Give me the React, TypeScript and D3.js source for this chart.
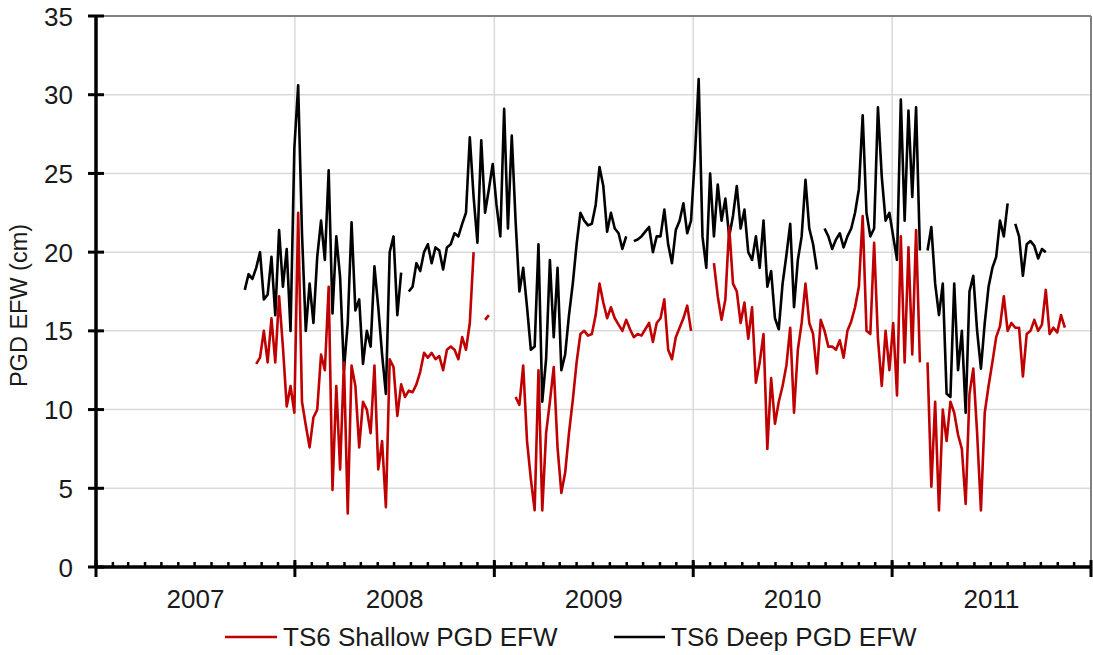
import React from 'react';
import * as d3 from 'd3';

// weekly readings, starting on this Monday
const firstWeek = new Date(2007, 8, 24);

const yearBounds = [2007, 2008, 2009, 2010, 2011, 2012];
const yearLabels = ['2007', '2008', '2009', '2010', '2011'];
const yTicks = [0, 5, 10, 15, 20, 25, 30, 35];

// TS6 Shallow PGD EFW (cm), one value per week, null = no data
const shallowValues: (number | null)[] = [
  null, null, null, null, 12.9, 13.3, 15.0, 13.0, 15.8, 13.0,
  17.2, 14.0, 10.2, 11.5, 9.8, 22.5, 10.5, 9.0, 7.6, 9.5,
  10.0, 13.5, 12.5, 17.8, 4.9, 11.5, 6.2, 13.0, 3.4, 12.8,
  11.5, 7.6, 10.5, 10.0, 8.5, 12.8, 6.2, 8.0, 3.8, 13.2,
  12.7, 9.6, 11.6, 10.8, 11.2, 11.1, 11.6, 12.4, 13.6, 13.3,
  13.6, 13.2, 13.4, 12.5, 13.8, 14.0, 13.8, 13.2, 14.6, 13.8,
  15.5, 20.0, null, null, 15.7, 16.0, null, null, null, null,
  null, null, 10.8, 10.3, 12.8, 8.0, 5.6, 3.6, 12.5, 3.6,
  8.5, 10.5, 12.7, 7.6, 4.7, 6.0, 8.5, 10.6, 13.0, 14.8,
  15.0, 14.7, 14.8, 16.0, 18.0, 16.8, 15.8, 16.5, 15.8, 15.4,
  15.0, 15.7, 15.1, 14.6, 14.8, 14.7, 15.1, 15.5, 14.3, 15.5,
  15.8, 17.0, 13.8, 13.2, 14.6, 15.2, 15.8, 16.6, 15.0, null,
  null, null, null, null, 19.3, 17.2, 15.7, 17.0, 21.6, 18.0,
  17.5, 15.5, 16.8, 14.5, 16.5, 11.7, 13.0, 14.8, 7.5, 12.0,
  9.1, 10.5, 11.5, 12.8, 15.2, 9.8, 13.8, 15.5, 18.0, 15.5,
  14.8, 12.3, 15.7, 15.0, 14.0, 14.0, 13.8, 14.4, 13.3, 15.0,
  15.6, 16.5, 17.8, 22.3, 15.0, 14.8, 20.6, 14.5, 11.5, 15.0,
  12.5, 15.5, 10.9, 21.0, 13.0, 20.3, 13.5, 21.4, 13.0, null,
  13.0, 5.1, 10.5, 3.6, 10.0, 8.0, 10.5, 9.8, 8.4, 7.5,
  4.0, 11.0, 12.6, 8.5, 3.6, 9.8, 11.5, 13.0, 14.6, 15.3,
  17.2, 15.0, 15.5, 15.2, 15.2, 12.1, 14.8, 15.0, 15.7, 15.0,
  15.4, 17.6, 14.8, 15.2, 14.9, 16.0, 15.2,
];

// TS6 Deep PGD EFW (cm)
const deepValues: (number | null)[] = [
  null, 17.6, 18.6, 18.3, 19.0, 20.0, 17.0, 17.3, 19.7, 16.0,
  21.4, 17.8, 20.2, 15.0, 26.6, 30.6, 21.2, 15.0, 18.0, 15.5,
  19.7, 22.0, 19.5, 25.2, 16.1, 21.0, 18.4, 12.5, 15.5, 21.9,
  16.3, 17.0, 12.9, 15.0, 14.0, 19.1, 16.5, 13.5, 11.0, 20.0,
  21.0, 16.0, 18.7, null, 17.5, 17.8, 19.3, 18.8, 20.0, 20.5,
  19.3, 20.3, 20.1, 18.9, 20.3, 20.5, 21.2, 21.0, 21.8, 22.5,
  27.3, 23.5, 20.6, 27.1, 22.5, 24.0, 25.6, 23.0, 21.0, 29.1,
  21.5, 27.4, 22.0, 17.5, 19.0, 16.5, 13.8, 14.0, 20.5, 10.5,
  13.2, 19.5, 14.6, 19.0, 12.5, 13.5, 16.0, 18.0, 20.5, 22.5,
  22.0, 21.7, 21.8, 23.0, 25.4, 24.2, 21.3, 22.5, 21.5, 21.2,
  20.2, 21.0, null, 20.7, 20.8, 21.0, 21.3, 21.6, 20.0, 21.0,
  21.0, 22.7, 20.5, 19.3, 21.4, 22.0, 23.1, 21.2, 22.0, 26.0,
  31.0, 21.0, 19.0, 25.0, 21.0, 24.3, 22.0, 23.4, 21.0, 22.3,
  24.2, 21.5, 22.7, 20.0, 19.5, 21.0, 19.0, 22.0, 17.8, 18.8,
  15.8, 15.1, 18.0, 19.8, 21.8, 16.5, 19.5, 21.0, 24.6, 21.5,
  20.5, 18.9, null, 21.5, 21.0, 20.2, 20.8, 21.2, 20.3, 21.0,
  21.5, 22.5, 24.0, 28.7, 22.5, 21.0, 21.5, 29.2, 24.8, 22.0,
  22.5, 21.0, 19.5, 29.7, 22.0, 29.0, 23.5, 29.2, 20.1, null,
  20.1, 21.6, 18.0, 16.0, 18.0, 11.0, 10.8, 18.0, 12.5, 15.0,
  9.8, 17.5, 18.5, 15.0, 12.6, 15.5, 17.8, 19.0, 19.7, 22.0,
  21.0, 23.1, null, 21.8, 21.0, 18.5, 20.5, 20.7, 20.4, 19.6,
  20.2, 20.0,
];

const W = 1093;
const H = 655;
const left = 96;
const right = 1091;
const top = 16;
const bottom = 567;
const font = '"Liberation Sans", Arial, sans-serif';
const red = '#c00000';

export default function App() {
  const x = d3
    .scaleTime()
    .domain([new Date(yearBounds[0], 0, 1), new Date(yearBounds[yearBounds.length - 1], 0, 1)])
    .range([left, right]);
  const y = d3.scaleLinear().domain([0, 35]).range([bottom, top]);

  const weekDate = (i: number) => d3.timeDay.offset(firstWeek, 7 * i);
  const line = d3
    .line<number | null>()
    .defined((d) => d != null)
    .x((_, i) => x(weekDate(i)))
    .y((d) => y(d as number));

  const months = d3.timeMonth.range(x.domain()[0], x.domain()[1]);
  const years = yearBounds.map((yr) => new Date(yr, 0, 1));

  return (
    <svg width={W} height={H} style={{ position: 'absolute', left: 0, top: 0, background: '#fff' }}>
      {/* grid */}
      {yTicks.slice(1, -1).map((t) => (
        <line key={'gy' + t} x1={left} x2={right} y1={y(t)} y2={y(t)} stroke="#d9d9d9" strokeWidth={1.5} />
      ))}
      {years.slice(1, -1).map((d, i) => (
        <line key={'gx' + i} x1={x(d)} x2={x(d)} y1={top} y2={bottom} stroke="#d9d9d9" strokeWidth={1.5} />
      ))}
      <line x1={left} x2={right} y1={top} y2={top} stroke="#808080" strokeWidth={2} />
      <line x1={right} x2={right} y1={top} y2={bottom} stroke="#808080" strokeWidth={2} />

      {/* series */}
      <path d={line(deepValues) ?? ''} fill="none" stroke="#000" strokeWidth={2.6} strokeLinejoin="round" />
      <path d={line(shallowValues) ?? ''} fill="none" stroke={red} strokeWidth={2.6} strokeLinejoin="round" />

      {/* y axis */}
      <line x1={left} x2={left} y1={top} y2={bottom} stroke="#000" strokeWidth={3.5} />
      {yTicks.map((t) => (
        <g key={'ty' + t}>
          <line x1={left - 8} x2={left + 8} y1={y(t)} y2={y(t)} stroke="#000" strokeWidth={3} />
          <text x={73} y={y(t) + 9.5} textAnchor="end" fontFamily={font} fontSize={26} fill="#1a1a1a">
            {t}
          </text>
        </g>
      ))}
      <text
        transform={`translate(27,${(top + bottom) / 2 + 14}) rotate(-90)`}
        textAnchor="middle"
        fontFamily={font}
        fontSize={23.5}
        fill="#1a1a1a"
      >
        PGD EFW (cm)
      </text>

      {/* x axis */}
      {months.map((d, i) => (
        <line key={'m' + i} x1={x(d)} x2={x(d)} y1={bottom - 5} y2={bottom} stroke="#000" strokeWidth={2.5} />
      ))}
      {years.map((d, i) => (
        <line key={'yt' + i} x1={x(d)} x2={x(d)} y1={bottom - 7} y2={bottom + 10} stroke="#000" strokeWidth={3} />
      ))}
      <line x1={left} x2={right} y1={bottom} y2={bottom} stroke="#000" strokeWidth={3.5} />
      {yearLabels.map((lab, i) => (
        <text
          key={lab}
          x={(x(years[i]) + x(years[i + 1])) / 2}
          y={608}
          textAnchor="middle"
          fontFamily={font}
          fontSize={26}
          fill="#1a1a1a"
        >
          {lab}
        </text>
      ))}

      {/* legend */}
      <line x1={225} x2={277} y1={637} y2={637} stroke={red} strokeWidth={2.5} />
      <text x={283} y={646} fontFamily={font} fontSize={26} fill="#1a1a1a">
        TS6 Shallow PGD EFW
      </text>
      <line x1={614} x2={665} y1={637} y2={637} stroke="#000" strokeWidth={2.5} />
      <text x={671} y={646} fontFamily={font} fontSize={26} fill="#1a1a1a">
        TS6 Deep PGD EFW
      </text>
    </svg>
  );
}
